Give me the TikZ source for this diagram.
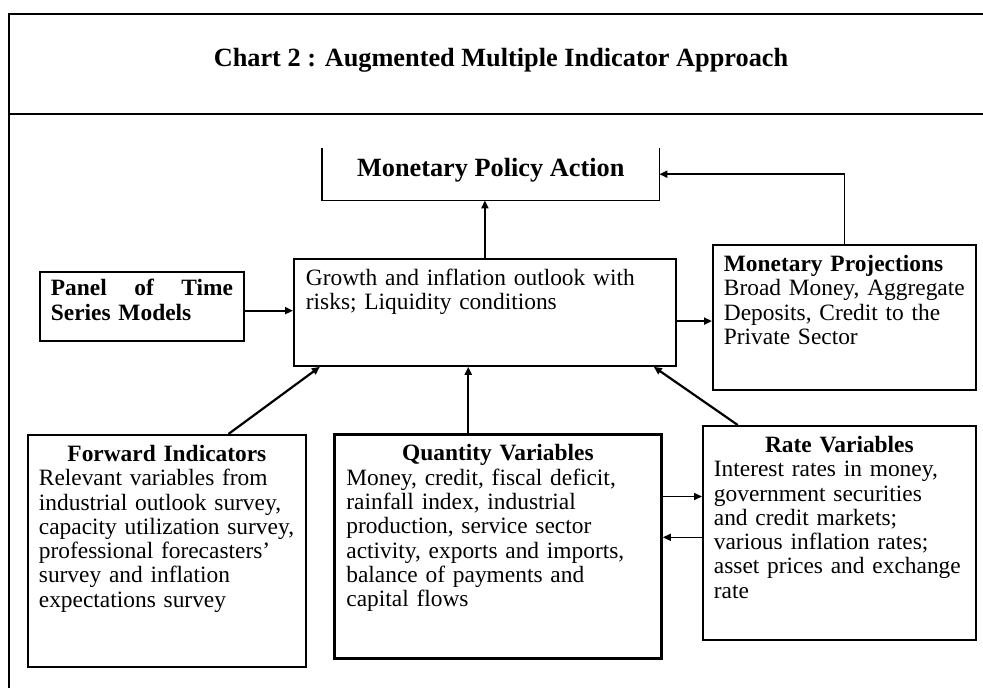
\documentclass[tikz,border=0pt]{standalone}
\usepackage{fontspec}
\setmainfont{Liberation Serif}
\usetikzlibrary{arrows.meta,positioning,calc}

\begin{document}
\begin{tikzpicture}[x=1pt, y=-1pt,
  box/.style={draw, line width=1.8pt, anchor=north west, align=left, inner xsep=11pt, inner ysep=10.5pt, text height=16pt, font={\fontsize{23.4}{24.3}\selectfont}},
  headfont/.style={font={\bfseries\fontsize{26.3}{30}\selectfont}},
  arr/.style={-{Triangle[length=8pt, width=7pt]}, line width=2.2pt},
  thinarr/.style={arr, line width=1.6pt},
  frame/.style={line width=2pt}
]
\useasboundingbox (0,0) rectangle (983,688);

% Frame and heading
\draw[frame] (9,688) -- (9,14) -- (983,14);
\draw[frame] (9,114) -- (983,114);
\node[headfont] (title) at (501,60) {Chart 2 : Augmented Multiple Indicator Approach};

% Top: policy action (open at the top)
\node[headfont, anchor=north west, inner sep=0pt, text depth=14pt, minimum width=337pt, minimum height=52pt] (mpa) at (322,148) {Monetary Policy Action};
\draw[line width=1.8pt] (mpa.north west) -- (mpa.south west) -- (mpa.south east) -- (mpa.north east);

% Middle row
\node[box, inner ysep=8pt, text width=182pt, text depth=37pt] (panel) at (39,271) {\textbf{Panel\hfill of\hfill Time\\Series Models}};
\node[box, inner xsep=12pt, text width=358pt, text depth=70pt] (outlook) at (293,258) {Growth and inflation outlook with\\risks; Liquidity conditions};
\node[box, text width=241pt, text depth=108pt] (mpp) at (712,244) {\textbf{Monetary Projections}\\Broad Money, Aggregate\\Deposits, Credit to the\\Private Sector};

% Bottom row
\node[box, text width=256pt, text depth=195pt] (fwd) at (27,434) {\makebox[\linewidth]{\textbf{Forward Indicators}}\\Relevant variables from\\industrial outlook survey,\\capacity utilization survey,\\professional forecasters'\\survey and inflation\\expectations survey};
\node[box, line width=2.8pt, inner xsep=12pt, text width=303pt, text depth=187pt] (qty) at (333,433) {\makebox[\linewidth]{\textbf{Quantity Variables}}\\Money, credit, fiscal deficit,\\rainfall index, industrial\\production, service sector\\activity, exports and imports,\\balance of payments and\\capital flows};
\node[box, text width=251pt, text depth=177pt] (rate) at (702,425) {\makebox[\linewidth]{\textbf{Rate Variables}}\\Interest rates in money,\\government securities\\and credit markets;\\various inflation rates;\\asset prices and exchange\\rate};

% Arrows into and out of the outlook box
\coordinate (pe) at ($(panel.north east)!0.56!(panel.south east)$);
\draw[arr] (pe) -- (pe -| outlook.west);
\coordinate (oe) at ($(outlook.north east)!0.58!(outlook.south east)$);
\draw[arr] (oe) -- (oe -| mpp.west);
\draw[arr] (outlook.north) -- (outlook.north |- mpa.south);
\draw[thinarr] (mpp.north) |- (mpa.east);

\draw[arr] ($(fwd.north west)!0.72!(fwd.north east)$) -- ($(outlook.south west)!0.07!(outlook.south east)$);
\coordinate (qt) at ($(qty.north west)!0.41!(qty.north east)$);
\draw[arr] (qt) -- (qt |- outlook.south);
\draw[arr] ($(rate.north west)!0.13!(rate.north east)$) -- ($(outlook.south west)!0.94!(outlook.south east)$);

% Quantity <-> rate
\coordinate (q1) at ($(qty.north east)!0.28!(qty.south east)$);
\draw[thinarr] (q1) -- (q1 -| rate.west);
\coordinate (q2) at ($(qty.north east)!0.46!(qty.south east)$);
\draw[thinarr] (q2 -| rate.west) -- (q2);

\end{tikzpicture}
\end{document}
